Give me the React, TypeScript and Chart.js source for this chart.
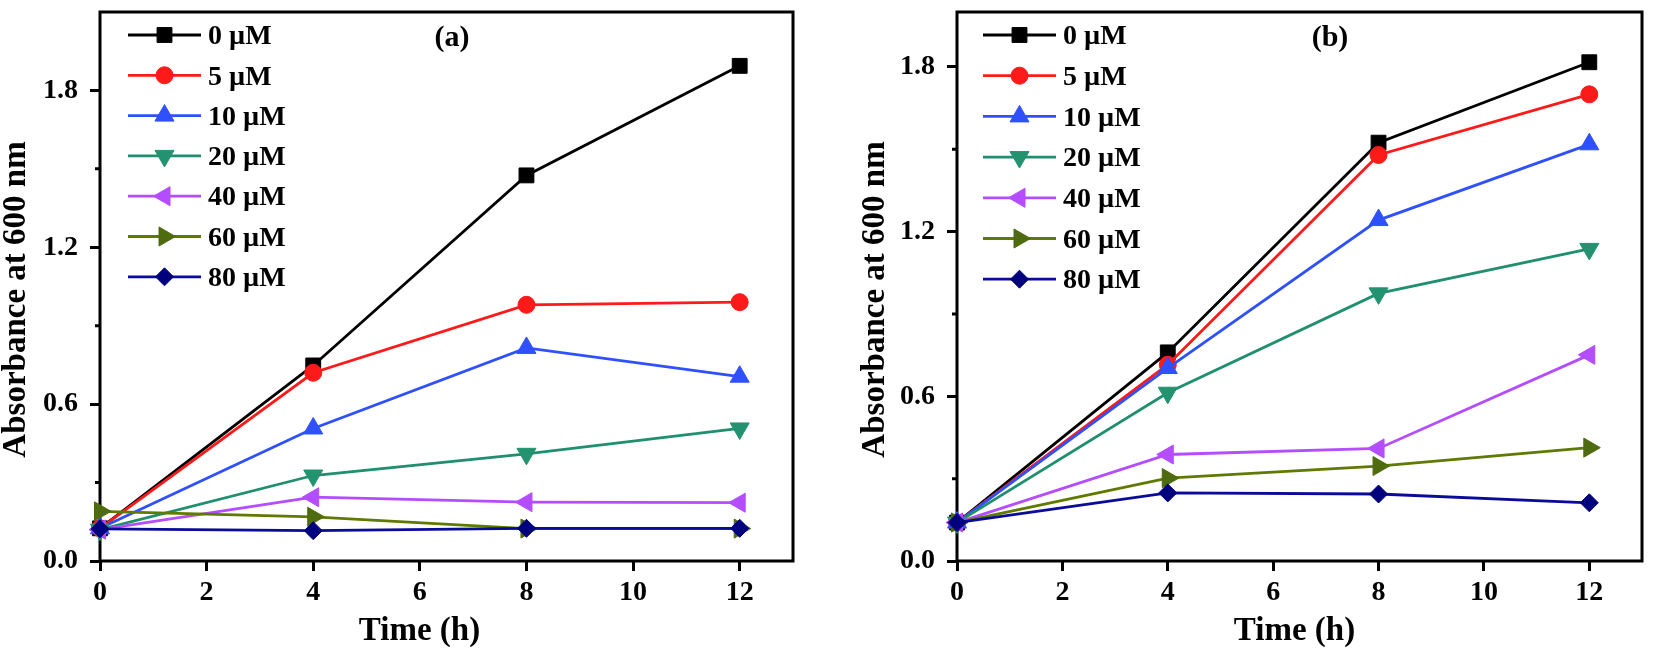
import React, { useEffect, useRef } from 'react';
import { Chart, registerables } from 'chart.js';
import { drawPoint } from 'chart.js/helpers';

Chart.register(...registerables);

const FONT = "'Liberation Serif', 'Times New Roman', serif";

const times = [0, 4, 8, 12];
const doses = ['0 µM', '5 µM', '10 µM', '20 µM', '40 µM', '60 µM', '80 µM'];
const xTicks = [0, 2, 4, 6, 8, 10, 12];
const yTicks = [0, 0.6, 1.2, 1.8];
const yMinor = [0.3, 0.9, 1.5];

// panel (a)
const a0 = [0.125, 0.748, 1.475, 1.894];
const a5 = [0.125, 0.72, 0.98, 0.99];
const a10 = [0.125, 0.507, 0.815, 0.705];
const a20 = [0.12, 0.327, 0.41, 0.507];
const a40 = [0.12, 0.244, 0.225, 0.223];
const a60 = [0.19, 0.169, 0.124, 0.124];
const a80 = [0.123, 0.116, 0.125, 0.125];

// panel (b)
const b0 = [0.14, 0.76, 1.524, 1.817];
const b5 = [0.14, 0.715, 1.479, 1.7];
const b10 = [0.14, 0.703, 1.242, 1.518];
const b20 = [0.14, 0.613, 0.975, 1.137];
const b40 = [0.14, 0.388, 0.41, 0.751];
const b60 = [0.14, 0.302, 0.346, 0.413];
const b80 = [0.14, 0.248, 0.244, 0.212];

const lineColors = ['#000000', '#ff1a1a', '#2f50ff', '#1f8f6f', '#b44dff', '#5f7a00', '#0b0b9a'];
const markerColors = ['#000000', '#ff1a1a', '#2f50ff', '#22926f', '#b44dff', '#4f6b10', '#00007f'];
const markers = ['rect', 'circle', 'triangle', 'triangle', 'triangle', 'triangle', 'rectRot'];
const rotations = [0, 0, 0, 180, 270, 90, 0];
const radii = [10.5, 8.5, 11, 11, 11, 11, 9];

interface PanelProps {
    series: number[][];
    yMax: number;
    tag: string;
    tagX: number;
    padLeft: number;
    padRight: number;
    yWidth: number;
    legendX: number;
    legendStep: number;
    xTitleDx: number;
}

const Panel: React.FC<PanelProps> = (p) => {
    const canvasRef = useRef<HTMLCanvasElement>(null);

    useEffect(() => {
        if (!canvasRef.current) return;
        const ctx = canvasRef.current.getContext('2d');
        if (!ctx) return;

        const tickFont = { family: FONT, size: 28, weight: 'bold' as const };

        const decor = {
            id: 'decor',
            beforeDatasetsDraw(chart: any) {
                const { ctx, chartArea: a } = chart;
                const y = chart.scales.y;
                ctx.save();
                ctx.strokeStyle = '#000';
                ctx.lineWidth = 3;
                ctx.strokeRect(a.left, a.top, a.right - a.left, a.bottom - a.top);
                ctx.beginPath();
                yMinor.forEach((v) => {
                    const py = y.getPixelForValue(v);
                    ctx.moveTo(a.left - 5, py);
                    ctx.lineTo(a.left, py);
                });
                ctx.stroke();

                // axis titles
                ctx.fillStyle = '#000';
                ctx.font = `bold 33px ${FONT}`;
                ctx.textAlign = 'center';
                ctx.textBaseline = 'middle';
                ctx.fillText('Time (h)', (a.left + a.right) / 2 + p.xTitleDx, 631);
                ctx.translate(p.padLeft + 16.5, (a.top + a.bottom) / 2 + 13);
                ctx.rotate(-Math.PI / 2);
                ctx.fillText('Absorbance at 600 nm', 0, 0);
                ctx.restore();
            },
            afterDatasetsDraw(chart: any) {
                const { ctx } = chart;
                ctx.save();
                doses.forEach((d, i) => {
                    const ly = 35 + i * p.legendStep;
                    ctx.strokeStyle = lineColors[i];
                    ctx.lineWidth = 2.8;
                    ctx.beginPath();
                    ctx.moveTo(p.legendX, ly);
                    ctx.lineTo(p.legendX + 73, ly);
                    ctx.stroke();
                    ctx.fillStyle = markerColors[i];
                    ctx.strokeStyle = markerColors[i];
                    ctx.lineWidth = 1;
                    drawPoint(ctx, { pointStyle: markers[i] as any, rotation: rotations[i], radius: radii[i], borderWidth: 1 }, p.legendX + 36.5, ly);
                    ctx.fillStyle = '#000';
                    ctx.font = `bold 28px ${FONT}`;
                    ctx.textAlign = 'left';
                    ctx.textBaseline = 'middle';
                    ctx.fillText(d, p.legendX + 80, ly + 2);
                });
                ctx.font = `bold 30px ${FONT}`;
                ctx.textAlign = 'center';
                ctx.fillText(p.tag, p.tagX, 38);
                ctx.restore();
            },
        };

        const chart = new Chart(ctx, {
            type: 'line',
            data: {
                datasets: p.series.map((s, i) => ({
                    label: doses[i],
                    data: times.map((t, j) => ({ x: t, y: s[j] })),
                    borderColor: lineColors[i],
                    backgroundColor: markerColors[i],
                    pointBackgroundColor: markerColors[i],
                    pointBorderColor: markerColors[i],
                    pointStyle: markers[i] as any,
                    pointRotation: rotations[i],
                    pointRadius: radii[i],
                    pointBorderWidth: 1,
                    borderWidth: 2.8,
                    tension: 0,
                    clip: false as any,
                    order: 6 - i,
                })),
            },
            options: {
                responsive: false,
                animation: false,
                events: [],
                layout: { padding: { left: p.padLeft, right: p.padRight, top: 3, bottom: 0 } },
                plugins: { legend: { display: false }, tooltip: { enabled: false } },
                scales: {
                    x: {
                        type: 'linear',
                        min: 0,
                        max: 13,
                        afterBuildTicks: (s: any) => { s.ticks = xTicks.map((value) => ({ value })); },
                        afterFit: (s: any) => { s.height = 92; s.paddingLeft = 0; s.paddingRight = 0; },
                        grid: { drawOnChartArea: false, drawTicks: true, tickLength: 10, lineWidth: 3, color: '#000' },
                        border: { display: false },
                        ticks: { font: tickFont, color: '#000', padding: 5, maxRotation: 0, autoSkip: false, callback: (v: any) => String(v) },
                    },
                    y: {
                        type: 'linear',
                        min: 0,
                        max: p.yMax,
                        afterBuildTicks: (s: any) => { s.ticks = yTicks.map((value) => ({ value })); },
                        afterFit: (s: any) => { s.width = p.yWidth; s.paddingTop = 0; s.paddingBottom = 0; },
                        grid: { drawOnChartArea: false, drawTicks: true, tickLength: 10, lineWidth: 3, color: '#000' },
                        border: { display: false },
                        ticks: { font: tickFont, color: '#000', padding: 12, callback: (v: any) => Number(v).toFixed(1) },
                    },
                },
            },
            plugins: [decor],
        });

        return () => {
            chart.destroy();
        };
    }, [p]);

    return <canvas ref={canvasRef} width={827} height={653} style={{ display: 'block' }}></canvas>;
};

const panelA: PanelProps = {
    series: [a0, a5, a10, a20, a40, a60, a80],
    yMax: 2.1, tag: '(a)', tagX: 452,
    padLeft: 0, padRight: 34, yWidth: 100,
    legendX: 128, legendStep: 40.3, xTitleDx: -27,
};

const panelB: PanelProps = {
    series: [b0, b5, b10, b20, b40, b60, b80],
    yMax: 2.0, tag: '(b)', tagX: 503,
    padLeft: 32, padRight: 5, yWidth: 98,
    legendX: 156, legendStep: 40.7, xTitleDx: -5,
};

const App: React.FC = () => (
    <div style={{ position: 'absolute', left: 0, top: 0, width: 1654, height: 653, background: '#fff', display: 'flex' }}>
        <Panel {...panelA} />
        <Panel {...panelB} />
    </div>
);

export default App;
